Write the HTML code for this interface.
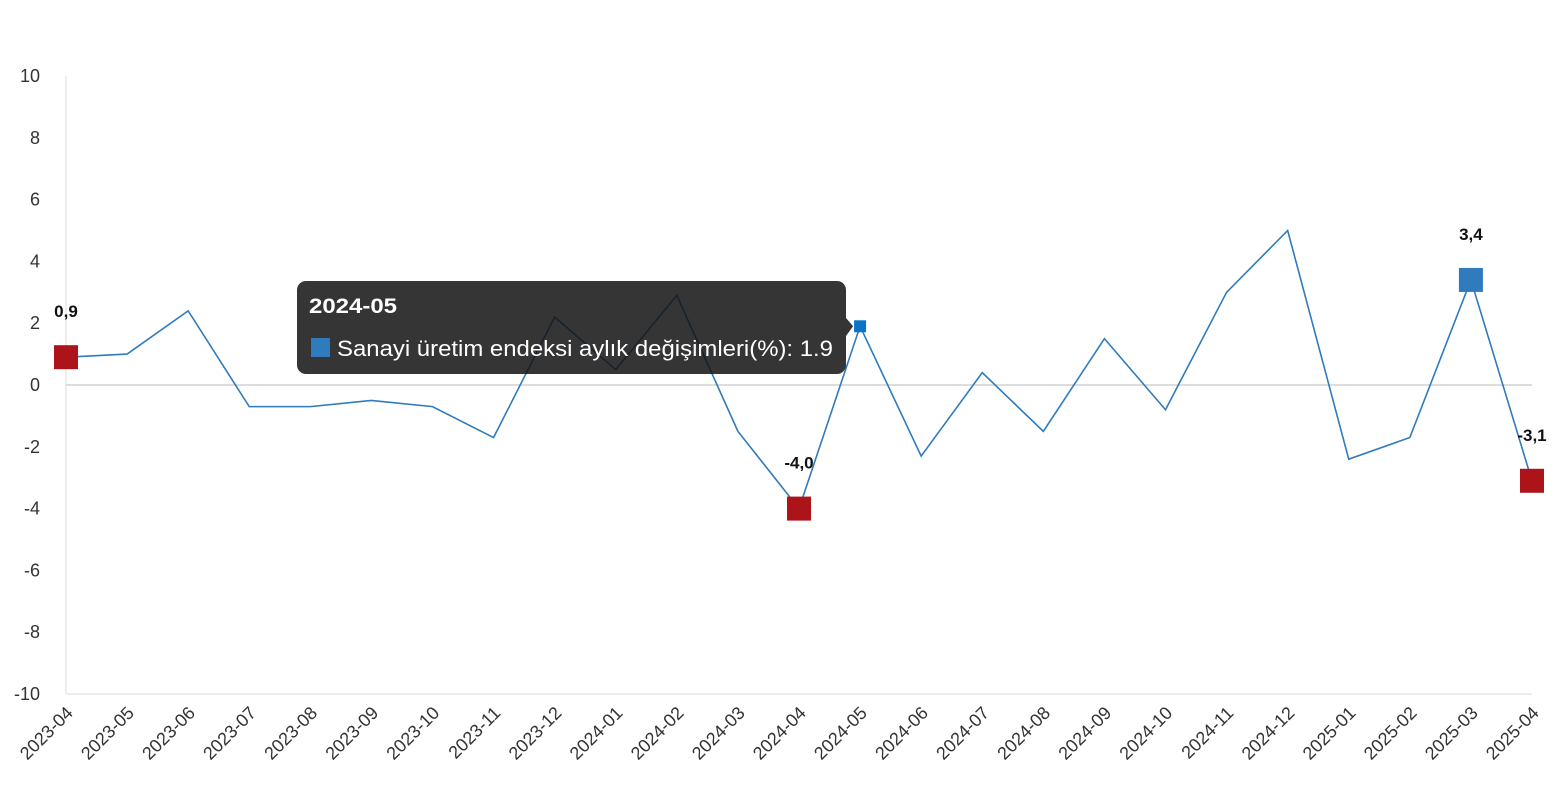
<!DOCTYPE html>
<html><head><meta charset="utf-8">
<style>
body{margin:0;background:#fff;font-family:"Liberation Sans",sans-serif;}
svg{display:block}
</style></head>
<body>
<svg id="chart" width="1557" height="800" xmlns="http://www.w3.org/2000/svg"></svg>
<script>
const categories=["2023-04","2023-05","2023-06","2023-07","2023-08","2023-09","2023-10","2023-11","2023-12","2024-01","2024-02","2024-03","2024-04","2024-05","2024-06","2024-07","2024-08","2024-09","2024-10","2024-11","2024-12","2025-01","2025-02","2025-03","2025-04"];
const values=[0.9,1.0,2.4,-0.7,-0.7,-0.5,-0.7,-1.7,2.2,0.5,2.9,-1.5,-4.0,1.9,-2.3,0.4,-1.5,1.5,-0.8,3.0,5.0,-2.4,-1.7,3.4,-3.1];
const yTicks=[10,8,6,4,2,0,-2,-4,-6,-8,-10];
const redMarks=[0,12,24];
const blueMarks=[23];
const svg=document.getElementById('chart');
const NS='http://www.w3.org/2000/svg';
const X0=66,X1=1532,Y10=76,Yn10=694;
const xs=i=>X0+(X1-X0)*i/(categories.length-1);
const ys=v=>Y10+(10-v)*(Yn10-Y10)/20;
function mk(t,a,p){const e=document.createElementNS(NS,t);for(const k in a)e.setAttribute(k,a[k]);(p||svg).appendChild(e);return e;}
let e;
e=mk('line',{x1:X0,y1:Y10,x2:X0,y2:Yn10,stroke:'#ddd'});


e=mk('line',{x1:X0,y1:Yn10,x2:X1,y2:Yn10,stroke:'#ddd'});


e=mk('line',{x1:X0,y1:ys(0),x2:X1,y2:ys(0),stroke:'#ddd',"stroke-width":2});


yTicks.forEach(v=>{
  const t=mk('text',{x:40,y:ys(v)+6,'text-anchor':'end','font-size':18,fill:'#333'});
  t.textContent=v;
  
  
});
categories.forEach((c,i)=>{
  const t=mk('text',{x:0,y:0,'text-anchor':'end','font-size':18,fill:'#333',transform:`translate(${xs(i)+8},${Yn10+20}) rotate(-45)`});
  t.textContent=c;
  
  
});
const pts=values.map((v,i)=>xs(i)+','+ys(v)).join(' ');
e=mk('polyline',{points:pts,fill:'none',stroke:'#2f7bbd','stroke-width':1.6});


function lab(i){const v=values[i];const t=mk('text',{x:xs(i),y:ys(v)-40,'text-anchor':'middle','font-size':17,'font-weight':'bold',fill:'#111'});t.textContent=v.toFixed(1).replace('.',',');}
redMarks.forEach(i=>{
  const r=mk('rect',{x:xs(i)-12,y:ys(values[i])-12,width:24,height:24,fill:'#ad1419'});
  
  
  lab(i);
});
blueMarks.forEach(i=>{
  const r=mk('rect',{x:xs(i)-12,y:ys(values[i])-12,width:24,height:24,fill:'#2f7bbd'});
  
  
  lab(i);
});
const hi=13;
e=mk('rect',{x:xs(hi)-6,y:ys(values[hi])-6,width:12,height:12,fill:'#0a74c8'});


const g=mk('g',{});


mk('rect',{x:297,y:281,width:549,height:93,rx:9,fill:'rgba(20,20,20,0.86)'},g);
mk('path',{d:`M846,318 L${xs(hi)-7},${ys(values[hi])} L846,336 Z`,fill:'rgba(20,20,20,0.86)'},g);
let t=mk('text',{x:309,y:313,'font-size':21,'font-weight':'bold',fill:'#fff',textLength:88,lengthAdjust:'spacingAndGlyphs'},g);
t.textContent=categories[hi];


mk('rect',{x:311,y:338,width:19,height:19,fill:'#2f7bbd'},g);
t=mk('text',{x:337,y:356,'font-size':22,fill:'#fff',textLength:496,lengthAdjust:'spacingAndGlyphs'},g);
t.textContent='Sanayi üretim endeksi aylık değişimleri(%): '+values[hi];


</script>
</body></html>
